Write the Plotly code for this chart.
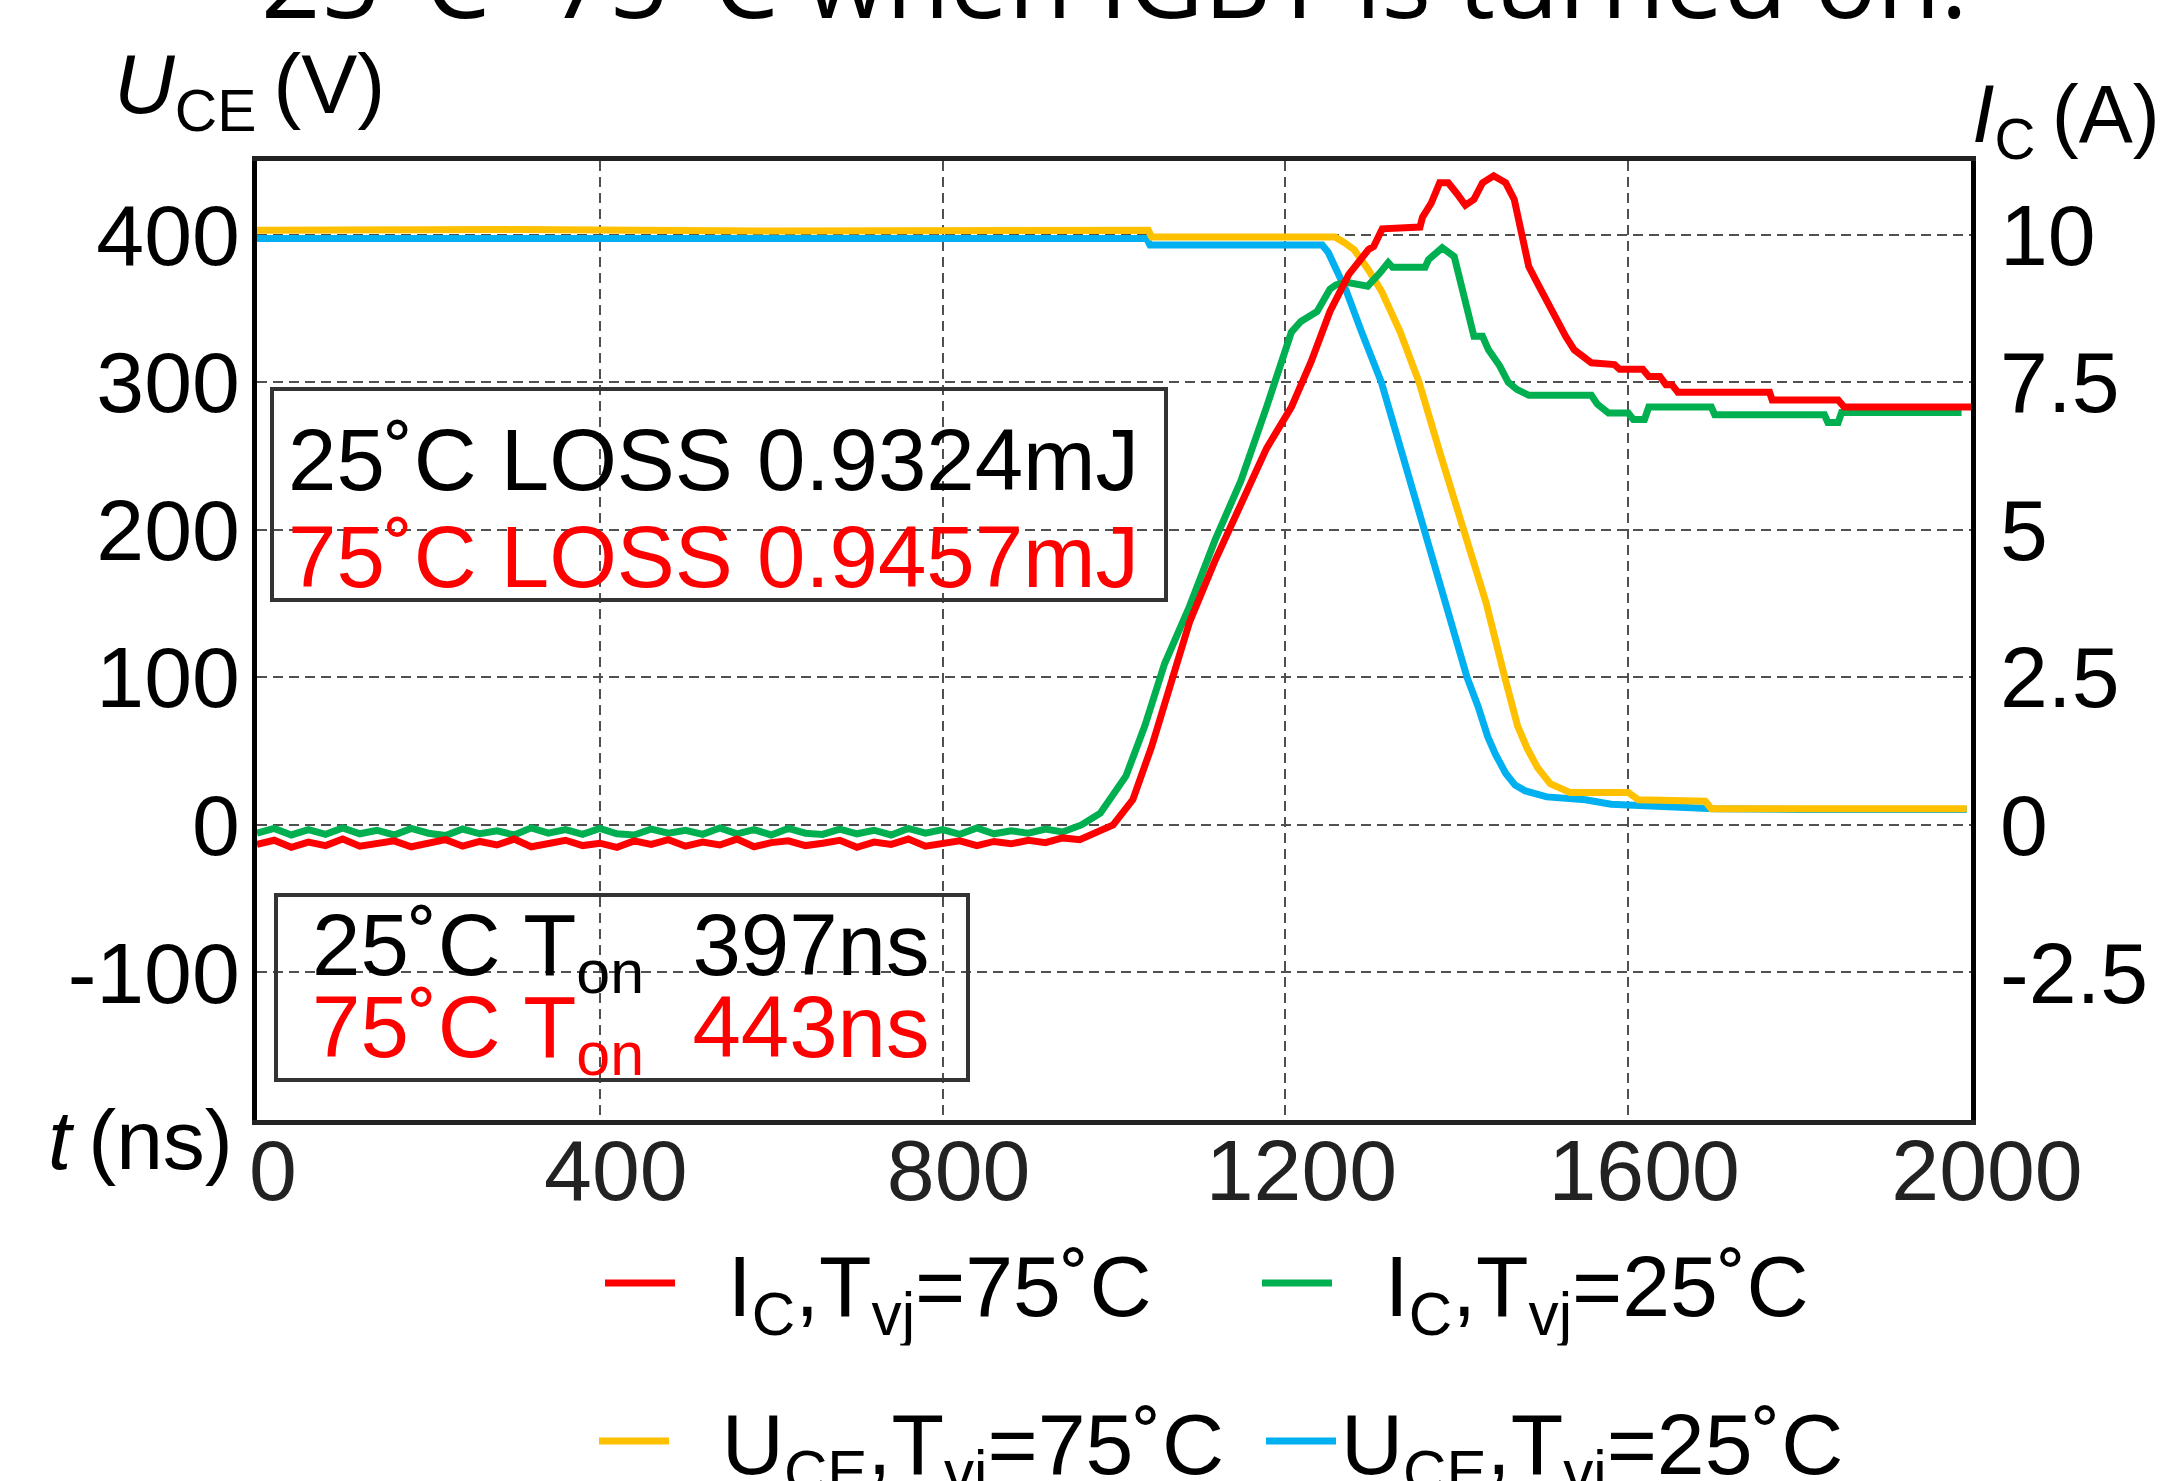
import plotly.graph_objects as go

# ---------------- data ----------------
# U_CE, Tvj=75°C (V)
uce75_t = [0, 300, 600, 900, 1040, 1044, 1258, 1268, 1280, 1296, 1312, 1334, 1356, 1382, 1408,
           1434, 1456, 1471, 1482, 1494, 1509, 1522, 1532, 1600, 1612, 1690, 1697, 1800, 1900, 1995]
uce75_v = [403, 403.5, 402.5, 403, 403, 398.5, 398.5, 395, 390, 377, 362, 334, 300, 249, 200,
           151, 100, 67, 52, 39, 28, 25, 22, 22, 17, 16, 11, 11, 11, 11]

# U_CE, Tvj=25°C (V)
uce25_t = [0, 300, 600, 900, 1038, 1042, 1243, 1250, 1258, 1271, 1289, 1312, 1337, 1362, 1387,
           1412, 1425, 1436, 1445, 1457, 1468, 1480, 1505, 1550, 1580, 1624, 1700, 1800, 1900, 1995]
uce25_v = [397.5, 397, 397.5, 397.5, 397.5, 393, 393, 388, 378, 362, 334, 300, 250, 200, 150,
           100, 80, 60, 48, 35, 27, 23, 19, 17, 14, 13, 11, 10.5, 10.5, 10.5]

# I_C, Tvj=25°C (A)
ic25_t = [0, 20, 40, 60, 80, 100, 120, 140, 160, 180, 200, 220, 240, 260, 280, 300, 320, 340,
          360, 380, 400, 420, 440, 460, 480, 500, 520, 540, 560, 580, 600, 620, 640, 660, 680,
          700, 720, 740, 760, 780, 800, 820, 840, 860, 880, 900, 920, 940,
          962, 984, 1014, 1036, 1059, 1088, 1118, 1148, 1178, 1193, 1207, 1218, 1237, 1252,
          1259, 1270, 1290, 1296, 1310, 1320, 1325, 1363, 1367, 1383, 1397, 1400, 1407, 1413,
          1420, 1430, 1437, 1450, 1460, 1470, 1484, 1557, 1564, 1577, 1600, 1606, 1619, 1624,
          1697, 1701, 1829, 1833, 1845, 1849, 1989]
ic25_a = [-0.14, -0.06, -0.17, -0.08, -0.16, -0.05, -0.15, -0.09, -0.17, -0.06, -0.14, -0.18,
          -0.07, -0.15, -0.10, -0.17, -0.05, -0.14, -0.08, -0.16, -0.06, -0.15, -0.17, -0.07,
          -0.14, -0.09, -0.16, -0.05, -0.15, -0.08, -0.17, -0.06, -0.14, -0.16, -0.07, -0.15,
          -0.09, -0.17, -0.06, -0.14, -0.08, -0.16, -0.05, -0.15, -0.10, -0.14, -0.07, -0.12,
          0.0, 0.2, 0.83, 1.68, 2.73, 3.7, 4.83, 5.83, 7.08, 7.7, 8.35, 8.53, 8.7, 9.08,
          9.15, 9.2, 9.15, 9.13, 9.35, 9.53, 9.45, 9.45, 9.58, 9.78, 9.63, 9.45, 9.08, 8.63,
          8.28, 8.28, 8.05, 7.78, 7.5, 7.38, 7.28, 7.28, 7.13, 6.98, 6.98, 6.87, 6.87, 7.08,
          7.08, 6.95, 6.95, 6.82, 6.82, 6.99, 6.99]

# I_C, Tvj=75°C (A)
ic75_t = [0, 20, 40, 60, 80, 100, 120, 140, 160, 180, 200, 220, 240, 260, 280, 300, 320, 340,
          360, 380, 400, 420, 440, 460, 480, 500, 520, 540, 560, 580, 600, 620, 640, 660, 680,
          700, 720, 740, 760, 780, 800, 820, 840, 860, 880, 900, 920, 940,
          960, 977, 999, 1022, 1044, 1066, 1088, 1118, 1148, 1178, 1207, 1230, 1252, 1274,
          1297, 1303, 1313, 1357, 1360, 1370, 1380, 1390, 1400, 1410, 1420, 1430, 1443, 1457,
          1467, 1477, 1484, 1494, 1504, 1517, 1527, 1537, 1547, 1557, 1584, 1590, 1617, 1624,
          1637, 1644, 1651, 1658, 1765, 1768, 1845, 1852, 2000]
ic75_a = [-0.33, -0.26, -0.38, -0.29, -0.35, -0.24, -0.36, -0.31, -0.27, -0.37, -0.30, -0.25,
          -0.36, -0.28, -0.34, -0.24, -0.37, -0.30, -0.26, -0.35, -0.31, -0.38, -0.27, -0.33,
          -0.25, -0.36, -0.29, -0.34, -0.24, -0.37, -0.30, -0.27, -0.35, -0.31, -0.26, -0.38,
          -0.29, -0.33, -0.24, -0.36, -0.30, -0.27, -0.35, -0.28, -0.32, -0.26, -0.30, -0.22,
          -0.25, -0.15, 0.0, 0.43, 1.33, 2.38, 3.43, 4.48, 5.4, 6.38, 7.08, 7.85, 8.7, 9.33,
          9.75, 9.8, 10.1, 10.13, 10.3, 10.53, 10.88, 10.88, 10.7, 10.5, 10.6, 10.88, 11.0, 10.88,
          10.6, 9.98, 9.46, 9.18, 8.9, 8.55, 8.28, 8.05, 7.95, 7.83, 7.8, 7.72, 7.72, 7.6,
          7.6, 7.46, 7.46, 7.33, 7.33, 7.2, 7.2, 7.08, 7.08]

x_ticks = [0, 400, 800, 1200, 1600, 2000]
x_ticktext = ["0", "400", "800", "1200", "1600", "2000"]
u_ticks = [-100, 0, 100, 200, 300, 400]
u_ticktext = ["-100", "0", "100", "200", "300", "400"]
i_ticks = [-2.5, 0, 2.5, 5, 7.5, 10]
i_ticktext = ["-2.5", "0", "2.5", "5", "7.5", "10"]

NB = "\u00a0"
names = {
    "ic75": NB * 2 + "I<sub>C</sub>,T<sub>vj</sub>=75˚C",
    "ic25": NB * 2 + "I<sub>C</sub>,T<sub>vj</sub>=25˚C",
    "uce75": NB * 2 + "U<sub>CE</sub>,T<sub>vj</sub>=75˚C",
    "uce25": "U<sub>CE</sub>,T<sub>vj</sub>=25˚C",
}

RED, GREEN, YELLOW, BLUE = "#FF0000", "#00B050", "#FFC000", "#00B0F0"
FONT = "Liberation Sans, Arial, sans-serif"
W, H = 2169, 1481
L, R, T, B = 257, 198, 161, 361
PW, PH = W - L - R, H - T - B
LW = 7


def px(x):
    return (x - L) / PW


def py(y):
    return 1 - (y - T) / PH


fig = go.Figure()
fig.add_trace(go.Scatter(x=uce25_t, y=uce25_v, mode="lines", name=names["uce25"],
                         line=dict(color=BLUE, width=LW), legend="legend2", legendrank=2))
fig.add_trace(go.Scatter(x=uce75_t, y=uce75_v, mode="lines", name=names["uce75"],
                         line=dict(color=YELLOW, width=LW), legend="legend2", legendrank=1))
fig.add_trace(go.Scatter(x=ic25_t, y=ic25_a, mode="lines", name=names["ic25"], yaxis="y2",
                         line=dict(color=GREEN, width=LW), legend="legend", legendrank=2))
fig.add_trace(go.Scatter(x=ic75_t, y=ic75_a, mode="lines", name=names["ic75"], yaxis="y2",
                         line=dict(color=RED, width=LW), legend="legend", legendrank=1))

tickfont = dict(family=FONT, size=86, color="#000")
grid = dict(showgrid=True, gridcolor="#505050", gridwidth=2, griddash="10px,6px")

fig.update_layout(
    width=W, height=H,
    margin=dict(l=L, r=R, t=T, b=B, autoexpand=False),
    paper_bgcolor="white", plot_bgcolor="white",
    font=dict(family=FONT, size=86, color="#000"),
    xaxis=dict(range=[0, 2000], tickvals=x_ticks, ticktext=x_ticktext,
               tickfont=dict(family=FONT, size=86, color="#222"),
               showline=True, linecolor="#222", linewidth=5, mirror=True, zeroline=False,
               ticks="", ticklabelshift=16, ticklabelstandoff=-28, **grid),
    yaxis=dict(range=[-200, 450], tickvals=u_ticks, ticktext=u_ticktext, tickfont=tickfont,
               showline=True, linecolor="#000", linewidth=5, mirror=True, zeroline=False,
               ticks="", ticklabelstandoff=-5, **grid),
    yaxis2=dict(range=[-5, 11.25], tickvals=i_ticks, ticktext=i_ticktext, tickfont=tickfont,
                overlaying="y", side="right", showgrid=False, zeroline=False, showline=False,
                ticks="", ticklabelstandoff=28),
    legend=dict(orientation="h", xref="container", yref="container",
                x=600 / W, xanchor="left", y=1 - 1283 / H, yanchor="middle",
                itemwidth=70, entrywidth=572, entrywidthmode="pixels",
                font=dict(family=FONT, size=86, color="#000"), bgcolor="rgba(0,0,0,0)"),
    legend2=dict(orientation="h", xref="container", yref="container",
                 x=594 / W, xanchor="left", y=1 - 1441 / H, yanchor="middle",
                 itemwidth=70, entrywidth=582, entrywidthmode="pixels",
                 font=dict(family=FONT, size=86, color="#000"), bgcolor="rgba(0,0,0,0)"),
    showlegend=True,
)

# Boxes around the loss / turn-on time notes
fig.add_shape(type="rect", xref="paper", yref="paper", x0=px(272), x1=px(1166), y0=py(600), y1=py(389),
              line=dict(color="#333", width=4), fillcolor="rgba(0,0,0,0)")
fig.add_shape(type="rect", xref="paper", yref="paper", x0=px(276), x1=px(968), y0=py(1080), y1=py(895),
              line=dict(color="#333", width=4), fillcolor="rgba(0,0,0,0)")

notes = [
    ("25˚C LOSS 0.9324mJ", "#000", 286, 459),
    ("75˚C LOSS 0.9457mJ", RED, 286, 556),
    ("25˚C T<sub>on</sub>\u00a0\u00a0397ns", "#000", 310, 951),
    ("75˚C T<sub>on</sub>\u00a0\u00a0443ns", RED, 310, 1033),
]
for txt, col, xx, yy in notes:
    fig.add_annotation(text=txt, xref="paper", yref="paper", x=px(xx), y=py(yy), xanchor="left",
                       yanchor="middle", showarrow=False, font=dict(family=FONT, size=87, color=col))

# axis titles
fig.add_annotation(text="<i>U</i><sub>CE</sub>\u2009(V)", xref="paper", yref="paper", x=px(112), y=py(90),
                   xanchor="left", yanchor="middle", showarrow=False, font=dict(family=FONT, size=84, color="#000"))
fig.add_annotation(text="<i>I</i><sub>C</sub>\u2009(A)", xref="paper", yref="paper", x=px(1970), y=py(120),
                   xanchor="left", yanchor="middle", showarrow=False, font=dict(family=FONT, size=81, color="#000"))
fig.add_annotation(text="<i>t</i>\u2009(ns)", xref="paper", yref="paper", x=px(46), y=py(1140),
                   xanchor="left", yanchor="middle", showarrow=False, font=dict(family=FONT, size=84, color="#000"))

# title (cut off at the top of the image in the reference)
fig.add_annotation(text="25°C~75°C when IGBT is turned on.", xref="paper", yref="paper", x=0.5, y=py(50),
                   xanchor="center", yanchor="bottom", showarrow=False,
                   font=dict(family="Open Sans, sans-serif", size=104, color="#000"))

fig.write_html("out.html")
